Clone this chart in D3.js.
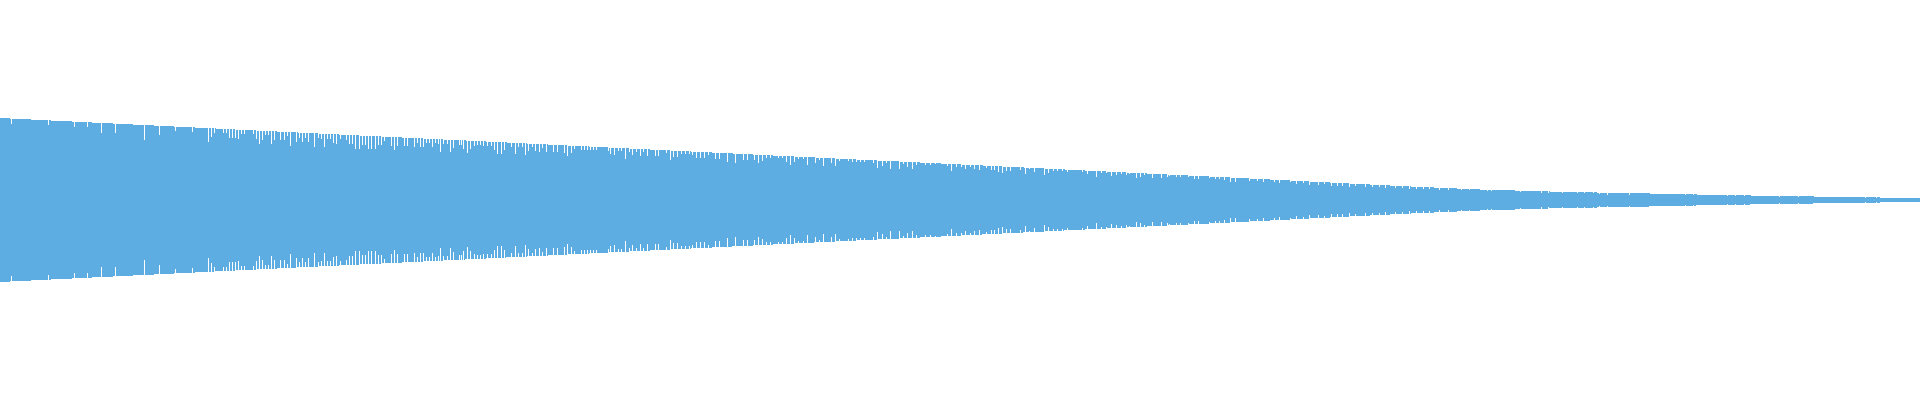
<!DOCTYPE html>
<html lang="en">
<head>
    <meta charset="UTF-8">
    <title>Waveform</title>
    <script src="https://cdn.jsdelivr.net/npm/d3@7"></script>
    <style>
        body { margin: 0; background: #fff; }
    </style>
</head>
<body>
<script type="text/javascript">
    var width = 1920;
    var height = 400;

    // peak envelope: sample position -> amplitude
    var envX = [0, 160, 320, 480, 640, 800, 960, 1120, 1240, 1320, 1400, 1480, 1560, 1640, 1720, 1800, 1880, 1920];
    var envV = [0.41, 0.371, 0.332, 0.294, 0.255, 0.216, 0.178, 0.139, 0.11, 0.09, 0.07, 0.0525, 0.041, 0.0335, 0.025, 0.0185, 0.0125, 0.0085];

    // samples that fall short of the envelope
    var dipX = [11, 48, 74, 87, 101, 115, 144, 159, 175, 192, 208, 211, 214, 223, 226, 229, 232, 235, 238, 241,
        244, 253, 256, 259, 262, 265, 268, 271, 274, 280,
        284, 287, 290, 296, 299, 302, 305, 308, 314, 318, 321, 324, 327, 330, 333, 336, 340, 346, 349, 352,
        355, 359, 362, 365, 368, 371, 375, 378, 381, 384, 391, 394, 397, 404, 407, 414, 417, 420, 423, 426,
        429, 432, 435, 438, 440, 443, 447, 450, 453, 459, 461, 463, 467, 470, 474, 477, 480, 483, 487, 491,
        494, 497, 501, 504, 511, 515, 518, 522, 525, 528, 532, 535, 539, 542, 546, 553, 557, 564, 567, 571,
        574, 581, 584, 587, 590, 593, 596,
        608, 610, 614, 618, 621, 625, 629, 632, 636, 640, 643, 647, 655, 658, 666, 670, 673, 677, 681, 685,
        689, 692, 696, 700, 704, 708, 715, 719, 727, 735, 743, 747, 754, 758, 762, 766, 770, 778, 782, 786,
        790, 794, 798, 803, 807, 815, 819, 823, 831, 835, 839, 848, 852, 856, 860, 864, 873, 877, 882, 886,
        890, 899, 903, 907, 912, 916,
        925, 930, 935, 947, 951, 956, 961, 965, 970, 974, 979, 986, 991, 994, 998, 1002, 1006, 1010, 1020, 1025,
        1029, 1034, 1044, 1048, 1053, 1057, 1062, 1067, 1082, 1087, 1096, 1101, 1106, 1111, 1116, 1121, 1126, 1129, 1136, 1140,
        1144, 1152, 1161, 1167, 1169, 1176, 1180, 1188, 1194, 1198, 1209, 1215, 1219, 1224, 1230, 1235,
        1249, 1257, 1263, 1274, 1279, 1290, 1296, 1303, 1309, 1318, 1324, 1331, 1337, 1342, 1349, 1355, 1365, 1372, 1379, 1385,
        1395, 1402, 1409, 1416, 1423, 1429, 1439, 1448, 1461, 1469, 1487, 1491, 1520, 1541, 1548, 1562, 1577, 1584, 1593, 1599,
        1607, 1629, 1685, 1693, 1727, 1735, 1744, 1753, 1761, 1779, 1798, 1817, 1865, 1876];
    var dipV = [0.38, 0.375, 0.365, 0.365, 0.335, 0.335, 0.30, 0.325, 0.345, 0.34, 0.29, 0.315, 0.335, 0.335, 0.335, 0.31, 0.31, 0.31, 0.305, 0.33,
        0.33, 0.33, 0.305, 0.28, 0.30, 0.325, 0.325, 0.28, 0.30, 0.30,
        0.30, 0.32, 0.27, 0.29, 0.31, 0.29, 0.31, 0.29, 0.265, 0.31, 0.305, 0.265, 0.305, 0.305, 0.285, 0.28, 0.305, 0.30, 0.28, 0.28,
        0.255, 0.255, 0.275, 0.275, 0.255, 0.255, 0.255, 0.275, 0.275, 0.295, 0.27, 0.25, 0.27, 0.27, 0.27, 0.265, 0.285, 0.265, 0.265, 0.285,
        0.285, 0.265, 0.285, 0.28, 0.24, 0.28, 0.28, 0.24, 0.26, 0.275, 0.275, 0.255, 0.235, 0.255, 0.27, 0.275, 0.275, 0.27, 0.27, 0.27,
        0.25, 0.23, 0.23, 0.25, 0.265, 0.23, 0.265, 0.265, 0.225, 0.245, 0.265, 0.245, 0.24, 0.26, 0.24, 0.24, 0.24, 0.235, 0.22, 0.235,
        0.255, 0.25, 0.25, 0.25, 0.25, 0.25, 0.25,
        0.245, 0.23, 0.225, 0.245, 0.245, 0.205, 0.24, 0.225, 0.24, 0.22, 0.24, 0.22, 0.22, 0.22, 0.235, 0.20, 0.215, 0.215, 0.23, 0.23,
        0.23, 0.225, 0.21, 0.21, 0.21, 0.225, 0.205, 0.205, 0.19, 0.185, 0.20, 0.20, 0.20, 0.185, 0.195, 0.21, 0.21, 0.21, 0.21, 0.19,
        0.175, 0.19, 0.205, 0.205, 0.175, 0.185, 0.20, 0.17, 0.185, 0.17, 0.195, 0.195, 0.19, 0.19, 0.19, 0.19, 0.185, 0.16, 0.17, 0.185,
        0.155, 0.155, 0.18, 0.165, 0.155, 0.175,
        0.175, 0.175, 0.18, 0.17, 0.145, 0.165, 0.165, 0.155, 0.165, 0.155, 0.15, 0.16, 0.15, 0.15, 0.14, 0.135, 0.145, 0.145, 0.15, 0.13,
        0.155, 0.14, 0.125, 0.135, 0.145, 0.145, 0.145, 0.14, 0.14, 0.13, 0.115, 0.135, 0.135, 0.12, 0.125, 0.13, 0.125, 0.13, 0.11, 0.115,
        0.125, 0.11, 0.11, 0.115, 0.12, 0.115, 0.115, 0.115, 0.105, 0.105, 0.11, 0.105, 0.105, 0.10, 0.09, 0.09,
        0.095, 0.095, 0.09, 0.09, 0.085, 0.09, 0.08, 0.085, 0.075, 0.075, 0.08, 0.07, 0.07, 0.07, 0.065, 0.07, 0.065, 0.065, 0.065, 0.06,
        0.06, 0.06, 0.055, 0.055, 0.055, 0.055, 0.05, 0.05, 0.05, 0.05, 0.045, 0.045, 0.04, 0.035, 0.035, 0.035, 0.035, 0.035, 0.035, 0.03,
        0.0275, 0.0275, 0.025, 0.025, 0.02, 0.02, 0.02, 0.02, 0.02, 0.015, 0.015, 0.015, 0.01, 0.01];

    var x = d3.scaleLinear().domain([0, 1920]).range([0, width]);
    var y = d3.scaleLinear().domain([-1, 1]).range([height, 0]);

    var svg = d3.select('body').append('svg')
            .attr('width', width)
            .attr('height', height);

    var area = d3.area()
            .x(function (d) { return x(d[0]); })
            .y0(function (d) { return y(-d[1]); })
            .y1(function (d) { return y(d[1]); });

    svg.append('path')
            .datum(d3.zip(envX, envV))
            .attr('d', area)
            .attr('fill', '#5dade2')
            .attr('shape-rendering', 'crispEdges');

    // short samples show as thin notches cut into the top and bottom edges
    var dips = d3.zip(dipX, dipV);
    svg.selectAll('rect.top')
            .data(dips)
            .enter()
            .append('rect')
            .attr('class', 'top')
            .attr('x', function (d) { return x(d[0]); })
            .attr('y', y(0.5))
            .attr('width', 1)
            .attr('height', function (d) { return y(d[1]) - y(0.5); })
            .attr('fill', '#fff')
            .attr('shape-rendering', 'crispEdges');
    svg.selectAll('rect.bottom')
            .data(dips)
            .enter()
            .append('rect')
            .attr('class', 'bottom')
            .attr('x', function (d) { return x(d[0]); })
            .attr('y', function (d) { return y(-d[1]); })
            .attr('width', 1)
            .attr('height', function (d) { return y(-0.5) - y(-d[1]); })
            .attr('fill', '#fff')
            .attr('shape-rendering', 'crispEdges');
</script>
</body>
</html>
